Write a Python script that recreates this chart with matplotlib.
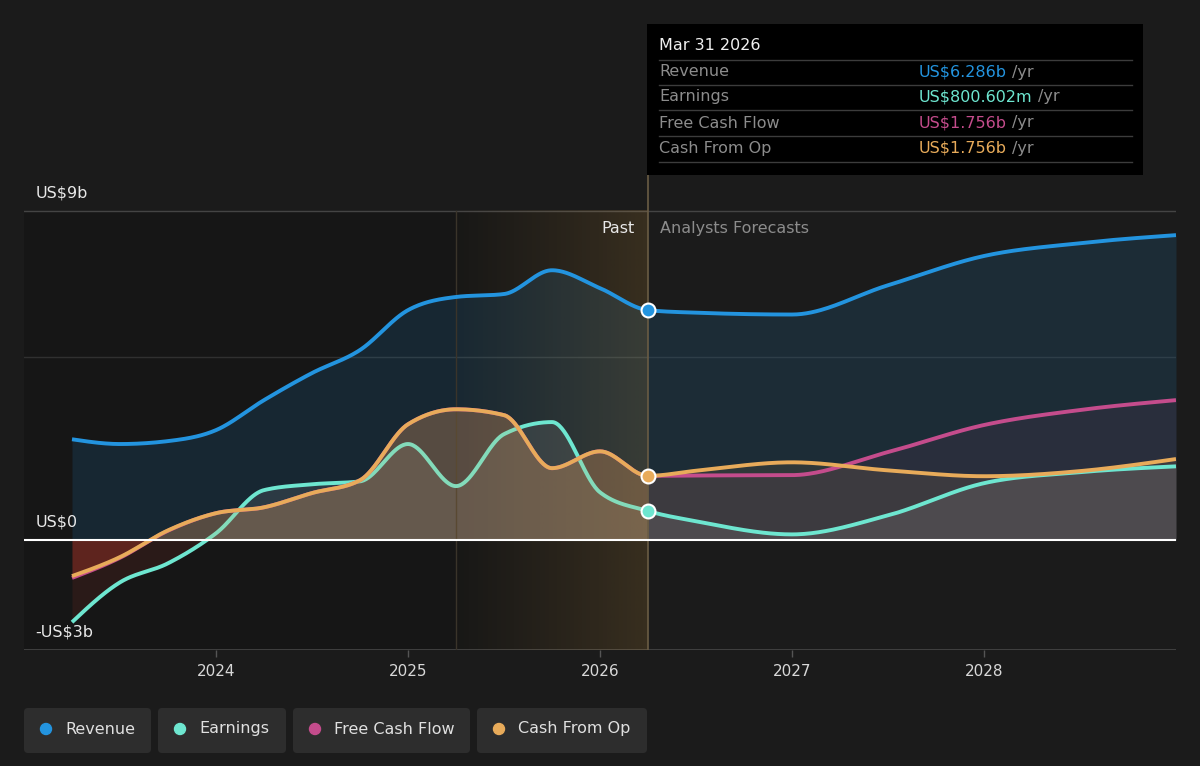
import matplotlib.pyplot as plt
import numpy as np
from matplotlib.patches import Rectangle, FancyBboxPatch, Circle

# data (US$ billions)
dates_past = [2023.25, 2023.5, 2023.75, 2024.0, 2024.25, 2024.5, 2024.75,
              2025.0, 2025.25, 2025.5, 2025.75, 2026.0, 2026.25]
dates_fc = [2026.25, 2026.5, 2027.0, 2027.5, 2028.0, 2028.5, 2029.0]

revenue_past = [2.76, 2.63, 2.71, 3.01, 3.83, 4.57, 5.20, 6.29, 6.65, 6.73, 7.38, 6.89, 6.29]
revenue_fc = [6.29, 6.22, 6.17, 6.97, 7.77, 8.12, 8.34]

earnings_past = [-2.24, -1.15, -0.63, 0.19, 1.37, 1.53, 1.61, 2.63, 1.48, 2.90, 3.23, 1.31, 0.80]
earnings_fc = [0.80, 0.52, 0.16, 0.68, 1.56, 1.86, 2.02]

fcf_past = [-1.03, -0.48, 0.26, 0.74, 0.90, 1.29, 1.64, 3.17, 3.58, 3.42, 1.97, 2.43, 1.76]
fcf_fc = [1.76, 1.77, 1.78, 2.41, 3.15, 3.56, 3.83]

cfo_past = [-0.98, -0.46, 0.27, 0.74, 0.90, 1.29, 1.64, 3.17, 3.58, 3.42, 1.97, 2.43, 1.76]
cfo_fc = [1.76, 1.90, 2.13, 1.91, 1.75, 1.89, 2.22]

tooltip_date = 'Mar 31 2026'
tooltip_rows = [('Revenue', 'US$6.286b'), ('Earnings', 'US$800.602m'),
                ('Free Cash Flow', 'US$1.756b'), ('Cash From Op', 'US$1.756b')]
year_ticks = [2024, 2025, 2026, 2027, 2028]

C_REV = '#2394df'
C_EARN = '#6ee6d0'
C_FCF = '#c44c8c'
C_CFO = '#e8ab5a'
BG = '#1b1b1b'


def smooth(xs, ys, n=40):
    # monotone cubic (same idea as d3 curveMonotoneX)
    xs = np.asarray(xs, float)
    ys = np.asarray(ys, float)
    h = np.diff(xs)
    s = np.diff(ys) / h
    m = np.zeros_like(ys)
    for i in range(1, len(xs) - 1):
        p = (s[i - 1] * h[i] + s[i] * h[i - 1]) / (h[i - 1] + h[i])
        m[i] = (np.sign(s[i - 1]) + np.sign(s[i])) * min(abs(s[i - 1]), abs(s[i]), 0.5 * abs(p))
    m[0] = (3 * s[0] - m[1]) / 2
    m[-1] = (3 * s[-1] - m[-2]) / 2
    ox, oy = [], []
    for i in range(len(xs) - 1):
        t = np.linspace(0, 1, n, endpoint=False)
        h00 = 2 * t**3 - 3 * t**2 + 1
        h10 = t**3 - 2 * t**2 + t
        h01 = -2 * t**3 + 3 * t**2
        h11 = t**3 - t**2
        ox.append(xs[i] + t * h[i])
        oy.append(h00 * ys[i] + h10 * h[i] * m[i] + h01 * ys[i + 1] + h11 * h[i] * m[i + 1])
    ox.append([xs[-1]])
    oy.append([ys[-1]])
    return np.concatenate(ox), np.concatenate(oy)


def series(past, fc):
    return smooth(dates_past + dates_fc[1:], past + fc[1:])


fig = plt.figure(figsize=(12, 7.66), dpi=100, facecolor=BG)
ax = fig.add_axes([0.02, (766 - 650) / 766, 0.96, (650 - 175) / 766])
ax.set_facecolor(BG)
y_top = (540 - 175) / 36.56
ax.set_xlim(2023.0, 2029.0)
ax.set_ylim(-3, y_top)
for s in ax.spines.values():
    s.set_visible(False)

# past shading and highlight band
ax.add_patch(Rectangle((2023.0, -3), 3.25, 12, color='#161616', zorder=0, lw=0))
grad = np.zeros((1, 256, 4))
grad[..., 0] = 0.80
grad[..., 1] = 0.60
grad[..., 2] = 0.28
grad[..., 3] = np.linspace(0.02, 0.22, 256) ** 1.1
ax.imshow(grad, extent=[2025.25, 2026.25, -3, 9], aspect='auto', zorder=1.5,
          interpolation='bilinear')

# grid
ax.axhline(9, color='#444444', lw=1, zorder=1)
ax.axhline(5, color='#303030', lw=1, zorder=1)
ax.axhline(-3, color='#444444', lw=2, zorder=1)

rx, ry = series(revenue_past, revenue_fc)
ex, ey = series(earnings_past, earnings_fc)
fx, fy = series(fcf_past, fcf_fc)
cx, cy = series(cfo_past, cfo_fc)

# fills
ax.fill_between(rx, 0, ry, color=C_REV, alpha=0.14, lw=0, zorder=1)
ax.fill_between(fx, 0, fy, where=fy >= 0, color=C_FCF, alpha=0.08, lw=0, zorder=1.2)
ax.fill_between(ex, 0, ey, where=ey >= 0, color='#e8e8e8', alpha=0.10, lw=0, zorder=1.3)
ax.fill_between(ex, 0, ey, where=ey < 0, color='#c0392b', alpha=0.12, lw=0, zorder=1.3)
ax.fill_between(cx, 0, cy, where=cy >= 0, color=C_CFO, alpha=0.10, lw=0, zorder=1.4)
ax.fill_between(cx, 0, cy, where=cy < 0, color='#c0392b', alpha=0.35, lw=0, zorder=1.4)

# lines
ax.plot(rx, ry, color=C_REV, lw=2.8, zorder=3, solid_capstyle='butt')
ax.plot(ex, ey, color=C_EARN, lw=2.8, zorder=2.6, solid_capstyle='butt')
ax.plot(fx, fy, color=C_FCF, lw=2.8, zorder=2.7, solid_capstyle='butt')
ax.plot(cx, cy, color=C_CFO, lw=2.8, zorder=2.8, solid_capstyle='butt')
# pale overlay on earnings where the cash-from-op area covers it
ax.fill_between(cx, 0, cy, where=(cx <= 2026.25) & (cy >= 0), color=C_CFO,
                alpha=0.18, lw=0, zorder=2.65)

ax.axhline(0, color='#ffffff', lw=1.5, zorder=3.5)

# divider lines
ax.plot([2026.25, 2026.25], [-3, y_top], color='#6a5c44', lw=1.2, zorder=3.2)
ax.plot([2025.25, 2025.25], [-3, 9], color='#3a342a', lw=1, zorder=1.6)

# markers at the present date
for v, c in [(revenue_past[-1], C_REV), (cfo_past[-1], C_CFO), (earnings_past[-1], C_EARN)]:
    ax.plot([2026.25], [v], 'o', ms=10, mfc=c, mec='white', mew=1.5, zorder=5)

ax.text(2026.25 - 0.07, 8.53, 'Past', color='#e8e8e8', fontsize=11.5,
        ha='right', va='center', zorder=6)
ax.text(2026.25 + 0.06, 8.53, 'Analysts Forecasts', color='#8c8c8c', fontsize=11.5,
        ha='left', va='center', zorder=6)

for v, lab in [(9, 'US$9b'), (0, 'US$0'), (-3, '-US$3b')]:
    ax.text(2023.06, v + 0.5, lab, color='#e8e8e8', fontsize=11.5,
            ha='left', va='center', zorder=6)

ax.set_yticks([])
ax.set_xticks(year_ticks)
ax.set_xticklabels([str(y) for y in year_ticks])
ax.tick_params(axis='x', colors='#555555', labelcolor='#d8d8d8', labelsize=11,
               length=5, width=1, pad=5)

# overlay for tooltip and legend, pixel coordinates
ov = fig.add_axes([0, 0, 1, 1], zorder=10)
ov.set_xlim(0, 1200)
ov.set_ylim(766, 0)
ov.axis('off')
ov.patch.set_alpha(0)

ov.add_patch(Rectangle((647, 24), 496, 151, color='#000000', lw=0))
ov.text(659, 46, tooltip_date, color='#f0f0f0', fontsize=11.5, va='center')
for yy in [60, 85, 110, 136, 162]:
    ov.plot([659, 1132], [yy, yy], color='#3c3c3c', lw=1)
row_y = [72, 97, 123, 148]
row_c = [C_REV, C_EARN, C_FCF, C_CFO]
fig.canvas.draw()
r = fig.canvas.get_renderer()
for (lab, val), yy, c in zip(tooltip_rows, row_y, row_c):
    ov.text(659, yy, lab, color='#8c8c8c', fontsize=11.5, va='center')
    t = ov.text(919, yy, val, color=c, fontsize=11.5, va='center')
    bb = t.get_window_extent(renderer=r)
    ov.text(bb.x1 + 5, 766 - yy, '/yr', color='#8c8c8c', fontsize=11.5,
            va='center', transform=None)

legend_names = ['Revenue', 'Earnings', 'Free Cash Flow', 'Cash From Op']
boxes = [(24, 151), (158, 286), (293, 470), (477, 647)]
for name, (x0, x1), c in zip(legend_names, boxes, row_c):
    ov.add_patch(FancyBboxPatch((x0 + 4, 712), x1 - x0 - 8, 37,
                                boxstyle='round,pad=4', fc='#2d2d2d', ec='none'))
    ov.add_patch(Circle((x0 + 22, 729), 5.5, color=c))
    ov.text(x0 + 41, 729, name, color='#e0e0e0', fontsize=11.5, va='center')

fig.savefig('out.png', dpi=100, facecolor=BG)
